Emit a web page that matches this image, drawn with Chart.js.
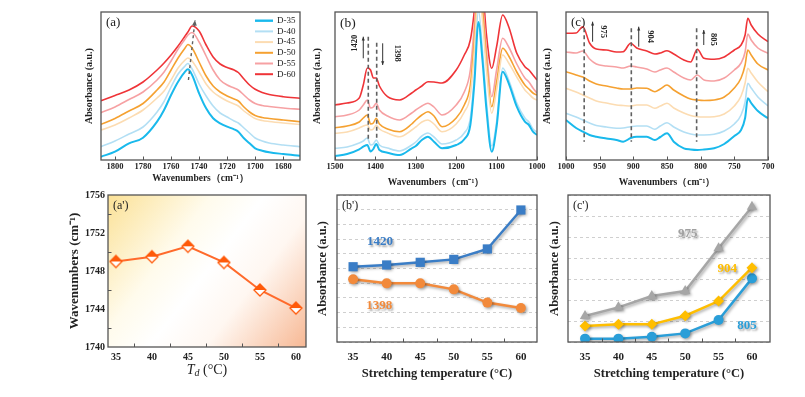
<!DOCTYPE html>
<html>
<head>
<meta charset="utf-8">
<script src="https://cdn.jsdelivr.net/npm/chart.js@4.4.1/dist/chart.umd.min.js"></script>
<style>
  html, body { margin: 0; padding: 0; background: #fff; }
  #fig { position: relative; width: 805px; height: 397px; overflow: hidden; }
  #fig canvas { position: absolute; }
</style>
</head>
<body>
<div id="fig">
  <canvas id="cA" width="255" height="192" style="left:55px;top:0px"></canvas>
  <canvas id="cB" width="250" height="192" style="left:300px;top:0px"></canvas>
  <canvas id="cC" width="255" height="192" style="left:530px;top:0px"></canvas>
  <canvas id="cAp" width="255" height="207" style="left:55px;top:190px"></canvas>
  <canvas id="cBp" width="245" height="207" style="left:300px;top:190px"></canvas>
  <canvas id="cCp" width="245" height="207" style="left:540px;top:190px"></canvas>
</div>
<script>
const SERIF = '"Liberation Serif", "Times New Roman", serif';
const INK = '#222';

// samples
const samples = ['D-35', 'D-40', 'D-45', 'D-50', 'D-55', 'D-60'];
const sampleColors = ['#19b9ec', '#b3dff4', '#fcdcb2', '#f5a131', '#f6a1a3', '#ef3438'];

// (a) C=O band, absorbance in arbitrary units (stacked)
const wnA = [1810, 1800, 1790, 1780, 1770, 1765, 1760, 1755, 1750, 1748, 1745, 1740, 1735, 1730, 1725, 1720, 1715, 1712, 1708, 1704, 1700, 1695, 1690, 1680, 1668];
const ticksA = [1800, 1780, 1760, 1740, 1720, 1700, 1680];
const a35 = [3.3, 8.3, 16.7, 22.3, 38.3, 50, 65, 78.3, 88.3, 90.7, 85, 66.7, 51.7, 41.7, 36.7, 33.3, 30.7, 28.3, 21.7, 16.7, 11.7, 9.3, 7.7, 6, 4.3];
const a40 = [13.3, 19, 26, 33, 48, 58.5, 73, 86, 94, 96.5, 91, 76, 64, 54, 47, 43, 39, 37, 32, 27, 22, 19, 17, 15, 13.3];
const a45 = [30, 35, 42, 50, 62, 69, 80, 92, 100, 102, 99, 88, 76, 68, 63, 59, 56, 54, 49, 45, 41.5, 39.5, 38.5, 37, 35.5];
const a50 = [35.7, 41.5, 49, 56.5, 70, 78, 90, 102, 112, 115.5, 112, 98, 84, 74, 68, 64, 61, 59, 53, 48, 44.5, 42.5, 41.5, 40, 38.3];
const a55 = [47.3, 53, 60.5, 68, 80, 88, 99, 111, 121, 125, 127.5, 118, 104, 90, 80, 75, 72, 70, 65, 60, 56.5, 54.5, 53.5, 52, 50.7];
const a60 = [59.3, 64.5, 70, 78, 90, 97, 105, 114, 124, 128, 134, 129, 115, 103, 96, 92.5, 90, 87.5, 81, 75, 70.7, 67.5, 65.5, 63.3, 61.7];

// (b) 1500-1000 cm-1
const wnB = [1500, 1470, 1440, 1430, 1420, 1412, 1405, 1398, 1390, 1370, 1340, 1310, 1300, 1285, 1270, 1255, 1235, 1200, 1180, 1165, 1155, 1145, 1135, 1125, 1112, 1100, 1085, 1070, 1050, 1030, 1020, 1010, 1000];
const ticksB = [1500, 1400, 1300, 1200, 1100, 1000];
const b35 = [4, 6, 10.7, 13.3, 15, 8.5, 11, 16, 10, 7.3, 5, 11.7, 14, 20, 23.3, 18.3, 11.7, 15, 20.7, 35, 77, 138, 100, 50, 8.3, 33.3, 88.3, 76.7, 53.3, 38.3, 35, 28.3, 25];
const b40 = [11.7, 13, 17, 19, 22, 15, 16, 20, 15, 12, 9, 15, 18, 24, 27, 23, 16, 20, 27, 42, 85, 150, 110, 58, 14, 38, 92, 80, 57, 42, 38, 31, 28];
const b45 = [26.7, 28, 32, 34, 35, 30, 31, 35, 31, 27, 23.3, 30, 33, 38, 40, 36, 28.3, 36, 48, 65, 110, 170, 140, 90, 46.7, 70, 105, 97, 83, 70, 66, 62, 60];
const b50 = [32.3, 34, 38, 42, 45, 36, 37, 41.7, 36, 31, 28.3, 36, 40, 45, 48.3, 44, 33.3, 42, 55, 75, 120, 180, 150, 98, 53.3, 78, 111.7, 104, 88, 75, 71, 67, 65];
const b55 = [43.3, 45, 50, 55, 60, 52, 53, 56.7, 50, 44, 40, 47, 50, 54, 56.7, 53, 45, 55, 68, 90, 135, 190, 160, 110, 63.3, 90, 121.7, 113, 96, 82, 78, 72, 67];
const b60 = [55, 57, 62, 75, 92, 90, 82, 82, 74, 63.3, 60, 67, 70, 74, 78.3, 78, 77, 90, 105, 120, 150, 200, 175, 125, 91.7, 113.3, 145, 133.3, 106.7, 93.3, 90, 85, 80];

// (c) 1000-700 cm-1
const wnC = [1000, 985, 975, 965, 955, 940, 925, 915, 904, 895, 880, 868, 860, 850, 840, 825, 815, 805, 795, 780, 765, 750, 740, 734, 730, 725, 715, 700];
const ticksC = [1000, 950, 900, 850, 800, 750, 700];
const c35 = [40, 32, 28.3, 25, 23.3, 21.5, 20, 18.3, 22, 23.3, 23.3, 20, 23, 26.7, 18.3, 11.7, 10.5, 10, 10.5, 11.7, 16, 24, 30, 42, 61.7, 57, 49, 41.7];
const c40 = [46.7, 43, 40, 37, 34.5, 33, 31.7, 32, 33.3, 34, 34, 30.7, 34, 37.3, 33, 28, 26, 25, 25, 25.7, 29, 36, 45, 58, 76.7, 72, 63, 54];
const c45 = [71.7, 68, 65, 62, 59, 57, 55, 54.5, 54, 55, 55, 51.7, 54, 56.7, 52, 47, 44.5, 43.3, 43, 43.3, 46, 54, 64, 77, 91.7, 87, 78, 68.3];
const c50 = [88.3, 85, 83, 79, 76, 74, 72, 71, 71, 72, 71.7, 68.3, 71, 75, 70, 64, 61, 60, 59.5, 60, 63, 72, 82, 95, 110, 105, 96, 90];
const c55 = [108, 107, 109, 101, 96, 94, 93, 92, 94, 93, 91, 88, 90, 92, 88, 82, 80, 85, 80, 79, 82, 90, 97, 108, 126, 120, 112, 106.7];
const c60 = [126.7, 127, 133.3, 117, 111, 110, 108, 108.3, 116.7, 112, 109, 106, 107, 109.3, 106, 100, 98, 110.7, 101.7, 100.7, 103, 110, 115, 125, 141.7, 135, 126, 118.3];

// bottom row: stretching temperature
const temps = [35, 40, 45, 50, 55, 60];
const minorT = [37.5, 42.5, 47.5, 52.5, 57.5];
const peakPos = [1749.0, 1749.5, 1750.6, 1748.9, 1746.0, 1744.1];
const ticksAp = [1740, 1744, 1748, 1752, 1756];
const minorAp = [1742, 1746, 1750, 1754];
const abs1420 = [5.12, 5.24, 5.42, 5.62, 6.33, 8.98];
const abs1398 = [4.27, 3.99, 3.99, 3.58, 2.68, 2.31];
const abs975 = [1.24, 1.65, 2.19, 2.43, 4.46, 6.44];
const abs904 = [0.76, 0.84, 0.84, 1.25, 1.95, 3.54];
const abs805 = [0.16, 0.16, 0.25, 0.41, 1.05, 3.03];

const pts = (xs, ys) => xs.map((x, i) => ({ x, y: ys[i] }));
const font = (size, weight, style) => `${style || 'normal'} ${weight || 'normal'} ${size}px ${SERIF}`;
const plain = v => String(v); // no thousands separator

// box, background, inward ticks, panel tag, legend
const frame = {
  id: 'frame',
  beforeDraw(chart, args, o) {
    if (!o.bg) return;
    const a = chart.chartArea, ctx = chart.ctx;
    const g = ctx.createLinearGradient(a.left, a.top, a.right, a.bottom);
    o.bg.forEach(([p, c]) => g.addColorStop(p, c));
    ctx.save();
    ctx.fillStyle = g;
    ctx.fillRect(a.left, a.top, a.width, a.height);
    ctx.restore();
  },
  afterDraw(chart, args, o) {
    const a = chart.chartArea, ctx = chart.ctx;
    const sx = chart.scales.x, sy = chart.scales.y;
    ctx.save();
    ctx.strokeStyle = '#555';
    ctx.lineWidth = 1;
    (o.xTicks || []).forEach(v => {
      const px = Math.round(sx.getPixelForValue(v)) + 0.5;
      ctx.beginPath(); ctx.moveTo(px, a.bottom); ctx.lineTo(px, a.bottom - 3.5); ctx.stroke();
    });
    (o.yTicks || []).forEach(v => {
      const py = Math.round(sy.getPixelForValue(v)) + 0.5;
      ctx.beginPath(); ctx.moveTo(a.left, py); ctx.lineTo(a.left + 3.5, py); ctx.stroke();
    });
    ctx.lineWidth = 1.3;
    ctx.strokeRect(a.left, a.top, a.width, a.height);
    if (o.tag) {
      ctx.font = font(o.tagSize || 13);
      ctx.fillStyle = INK;
      ctx.textBaseline = 'middle';
      ctx.fillText(o.tag, a.left + 5, a.top + 11);
    }
    if (o.legend) {
      const L = o.legend;
      ctx.font = font(9);
      ctx.textBaseline = 'middle';
      chart.data.datasets.forEach((d, i) => {
        const y = a.top + L.y0 + i * L.dy;
        ctx.strokeStyle = d.borderColor;
        ctx.lineWidth = d.borderWidth + 0.4;
        ctx.beginPath(); ctx.moveTo(a.right + L.x1, y); ctx.lineTo(a.right + L.x2, y); ctx.stroke();
        ctx.fillStyle = INK;
        ctx.fillText(d.label, a.right + L.tx, y);
      });
    }
    if (o.tdTitle) {
      // T_d (°C)
      const cx = (a.left + a.right) / 2, y = o.tdTitle;
      const parts = [['T', font(14, 'normal', 'italic'), 0], ['d', font(10, 'normal', 'italic'), 3.5], [' (°C)', font(14), 0]];
      let w = 0;
      parts.forEach(p => { ctx.font = p[1]; w += ctx.measureText(p[0]).width; });
      let x = cx - w / 2;
      ctx.fillStyle = INK;
      ctx.textBaseline = 'middle';
      parts.forEach(p => { ctx.font = p[1]; ctx.fillText(p[0], x, y + p[2]); x += ctx.measureText(p[0]).width; });
    }
    ctx.restore();
  }
};

// soft drop shadow for lines and markers
const shadow = {
  id: 'shadow',
  beforeDatasetDraw(chart) {
    const c = chart.ctx;
    c.save();
    c.shadowColor = 'rgba(0,0,0,0.35)';
    c.shadowBlur = 3;
    c.shadowOffsetX = 1.5;
    c.shadowOffsetY = 1.5;
  },
  afterDatasetDraw(chart) { chart.ctx.restore(); }
};

// dashed guides, arrows and labels in data coordinates
const notes = {
  id: 'notes',
  afterDatasetsDraw(chart, args, o) {
    const { ctx, scales: { x, y } } = chart;
    (o.lines || []).forEach(l => {
      const x1 = x.getPixelForValue(l.x1), y1 = y.getPixelForValue(l.y1);
      const x2 = x.getPixelForValue(l.x2), y2 = y.getPixelForValue(l.y2);
      ctx.save();
      ctx.strokeStyle = l.color || '#555';
      ctx.fillStyle = l.color || '#555';
      ctx.lineWidth = l.width || 1.6;
      ctx.setLineDash(l.dash || []);
      ctx.beginPath(); ctx.moveTo(x1, y1); ctx.lineTo(x2, y2); ctx.stroke();
      if (l.arrow) {
        const ang = Math.atan2(y2 - y1, x2 - x1), s = l.arrow;
        ctx.setLineDash([]);
        ctx.beginPath();
        ctx.moveTo(x2, y2);
        ctx.lineTo(x2 - s * Math.cos(ang - 0.4), y2 - s * Math.sin(ang - 0.4));
        ctx.lineTo(x2 - s * Math.cos(ang + 0.4), y2 - s * Math.sin(ang + 0.4));
        ctx.closePath();
        ctx.fill();
      }
      ctx.restore();
    });
    (o.texts || []).forEach(t => {
      ctx.save();
      ctx.translate(x.getPixelForValue(t.x), y.getPixelForValue(t.y));
      ctx.rotate(t.rot || 0);
      ctx.font = t.font;
      ctx.fillStyle = t.color || INK;
      ctx.textAlign = 'center';
      ctx.textBaseline = 'middle';
      if (t.shadow) {
        ctx.shadowColor = 'rgba(0,0,0,0.35)';
        ctx.shadowBlur = 2;
        ctx.shadowOffsetX = 1.5;
        ctx.shadowOffsetY = 1.5;
      }
      ctx.fillText(t.text, 0, 0);
      ctx.restore();
    });
  }
};

function spectrumChart(id, wn, series, o) {
  return new Chart(document.getElementById(id), {
    type: 'line',
    data: {
      datasets: series.map((ys, i) => ({
        label: samples[i],
        data: pts(wn, ys),
        borderColor: sampleColors[i],
        borderWidth: i === 0 ? 2 : 1.6,
        pointRadius: 0,
        cubicInterpolationMode: 'monotone'
      }))
    },
    options: {
      responsive: false,
      animation: false,
      events: [],
      layout: { autoPadding: false, padding: { left: 0, top: 12, right: o.right, bottom: 0 } },
      plugins: { legend: { display: false }, tooltip: { enabled: false }, frame: o.frame, notes: o.notes || {} },
      scales: {
        x: {
          type: 'linear', reverse: true, min: o.min, max: o.max,
          afterBuildTicks: s => { s.ticks = o.ticks.map(v => ({ value: v })); },
          afterFit: s => { s.height = o.h - 160; s.paddingLeft = 0; s.paddingRight = 0; },
          grid: { display: false, drawTicks: false }, border: { display: false },
          ticks: { callback: plain, padding: 2, autoSkip: false, maxRotation: 0, color: INK, font: { family: SERIF, size: 8.5, weight: 'bold' } },
          title: { display: true, text: 'Wavenumbers（cm⁻¹）', color: INK, padding: { top: 0, bottom: o.xtPad }, font: { family: SERIF, size: 9.5, weight: 'bold' } }
        },
        y: {
          type: 'linear', min: 0, max: 148,
          afterFit: s => { s.width = o.left; s.paddingTop = 0; s.paddingBottom = 0; },
          grid: { display: false, drawTicks: false }, border: { display: false },
          ticks: { display: false },
          title: { display: true, text: 'Absorbance (a.u.)', color: INK, padding: { top: o.ytPad, bottom: 0 }, font: { family: SERIF, size: 10, weight: 'bold' } }
        }
      }
    },
    plugins: [frame, notes]
  });
}

const dash = [4, 3];
const grayDash = '#606060';

spectrumChart('cA', wnA, [a35, a40, a45, a50, a55, a60], {
  min: 1668, max: 1810, ticks: ticksA, left: 46, right: 10, h: 192, xtPad: 8, ytPad: 28,
  frame: { tag: '(a)', tagSize: 13, xTicks: ticksA, legend: { x1: -45, x2: -27, tx: -23, y0: 8.7, dy: 10.7 } },
  notes: { lines: [{ x1: 1747.6, y1: 80, x2: 1742.9, y2: 140, dash: [3, 3], color: grayDash, width: 1.4, arrow: 6 }] }
});

spectrumChart('cB', wnB, [b35, b40, b45, b50, b55, b60], {
  min: 1000, max: 1500, ticks: ticksB, left: 35, right: 13, h: 192, xtPad: 3.6, ytPad: 11,
  frame: { tag: '(b)', tagSize: 13.5, xTicks: ticksB },
  notes: {
    lines: [
      { x1: 1417.6, y1: 123.3, x2: 1417.6, y2: 20, dash, color: grayDash },
      { x1: 1396.8, y1: 117.3, x2: 1396.8, y2: 20, dash, color: grayDash },
      { x1: 1430, y1: 101.7, x2: 1430, y2: 123.3, width: 1, color: '#333', arrow: 4 },
      { x1: 1382, y1: 116.7, x2: 1382, y2: 95, width: 1, color: '#333', arrow: 4 }
    ],
    texts: [
      { x: 1450.5, y: 116.7, text: '1420', rot: -Math.PI / 2, font: font(8.5, 'bold') },
      { x: 1347, y: 106.7, text: '1398', rot: Math.PI / 2, font: font(8.5, 'bold') }
    ]
  }
});

spectrumChart('cC', wnC, [c35, c40, c45, c50, c55, c60], {
  min: 700, max: 1000, ticks: ticksC, left: 36, right: 17, h: 192, xtPad: 3.6, ytPad: 11,
  frame: { tag: '(c)', tagSize: 13, xTicks: ticksC },
  notes: {
    lines: [
      { x1: 973, y1: 131.7, x2: 973, y2: 18.3, dash, color: grayDash },
      { x1: 903, y1: 131.7, x2: 903, y2: 18.3, dash, color: grayDash },
      { x1: 806, y1: 131.7, x2: 806, y2: 18.3, dash, color: grayDash },
      { x1: 960.5, y1: 118.3, x2: 960.5, y2: 138.3, width: 1, color: '#333', arrow: 4 },
      { x1: 892, y1: 113.3, x2: 892, y2: 133.3, width: 1, color: '#333', arrow: 4 },
      { x1: 795.4, y1: 115, x2: 795.4, y2: 130, width: 1, color: '#333', arrow: 4 }
    ],
    texts: [
      { x: 944.6, y: 128.3, text: '975', rot: Math.PI / 2, font: font(8.5, 'bold') },
      { x: 875.5, y: 123.3, text: '904', rot: Math.PI / 2, font: font(8.5, 'bold') },
      { x: 781.6, y: 120.7, text: '805', rot: Math.PI / 2, font: font(8.5, 'bold') }
    ]
  }
});

// half-filled diamond marker for (a')
function halfDiamond(size, color) {
  const c = document.createElement('canvas');
  const n = size + 4, m = n / 2, r = size / 2;
  c.width = c.height = n;
  const g = c.getContext('2d');
  const path = () => { g.beginPath(); g.moveTo(m, m - r); g.lineTo(m + r, m); g.lineTo(m, m + r); g.lineTo(m - r, m); g.closePath(); };
  path(); g.fillStyle = '#fff'; g.fill();
  g.beginPath(); g.moveTo(m, m - r); g.lineTo(m + r, m); g.lineTo(m - r, m); g.closePath(); g.fillStyle = color; g.fill();
  path(); g.strokeStyle = color; g.lineWidth = 1.3; g.stroke();
  return c;
}

function tempOptions(o) {
  return {
    responsive: false,
    animation: false,
    events: [],
    layout: { autoPadding: false, padding: { left: 0, top: 5, right: o.right, bottom: 0 } },
    plugins: { legend: { display: false }, tooltip: { enabled: false }, frame: o.frame, notes: o.notes || {} },
    scales: {
      x: {
        type: 'linear', min: o.xmin, max: o.xmax,
        afterBuildTicks: s => { s.ticks = temps.map(v => ({ value: v })); },
        afterFit: s => { s.height = 207 - o.bottom; s.paddingLeft = 0; s.paddingRight = 0; },
        grid: { display: false, drawTicks: false }, border: { display: false },
        ticks: { callback: plain, padding: o.xtickPad, autoSkip: false, maxRotation: 0, color: INK, font: { family: SERIF, size: o.xtickSize, weight: 'bold' } },
        title: o.xTitle ? { display: true, text: o.xTitle, color: INK, padding: { top: 0, bottom: 16.2 }, font: { family: SERIF, size: 12.5, weight: 'bold' } } : { display: false }
      },
      y: Object.assign({
        type: 'linear',
        afterFit: s => { s.width = o.left; s.paddingTop = 0; s.paddingBottom = 0; },
        title: { display: true, text: o.yTitle, color: INK, padding: { top: o.ytPad, bottom: 0 }, font: { family: SERIF, size: o.ytSize, weight: 'bold' } }
      }, o.y)
    }
  };
}

new Chart(document.getElementById('cAp'), {
  type: 'line',
  data: {
    datasets: [{
      label: 'C=O peak', data: pts(temps, peakPos),
      borderColor: '#ff6a2b', borderWidth: 2,
      pointStyle: halfDiamond(12, '#ff5a0a'), pointRadius: 7
    }]
  },
  options: tempOptions({
    xmin: 33.9, xmax: 61.4, left: 53, right: 4, bottom: 157, xtickPad: 4, xtickSize: 10,
    yTitle: 'Wavenumbers (cm⁻¹)', ytPad: 12, ytSize: 13,
    y: {
      min: 1740, max: 1756,
      afterBuildTicks: s => { s.ticks = ticksAp.map(v => ({ value: v })); },
      grid: { display: false, drawTicks: false }, border: { display: false },
      ticks: { callback: plain, padding: 3, color: INK, font: { family: SERIF, size: 10, weight: 'bold' } }
    },
    frame: {
      tag: "(a')", tagSize: 12, xTicks: minorT, yTicks: minorAp, tdTitle: 180,
      bg: [[0, '#fbe196'], [0.33, '#fffbec'], [0.5, '#ffffff'], [0.68, '#fff7f1'], [1, '#f7b894']]
    }
  }),
  plugins: [frame]
});

const gridY = {
  grid: { display: true, color: '#cfcfcf', lineWidth: 1, drawTicks: false },
  border: { display: false, dash: [3, 3] },
  ticks: { display: false, stepSize: 1 }
};

new Chart(document.getElementById('cBp'), {
  type: 'line',
  data: {
    datasets: [
      { label: '1420', data: pts(temps, abs1420), borderColor: '#3a7dc6', backgroundColor: '#3a7dc6', borderWidth: 2.5, pointStyle: 'rect', pointRadius: 6.5, pointBorderWidth: 0 },
      { label: '1398', data: pts(temps, abs1398), borderColor: '#f28a3b', backgroundColor: '#f28a3b', borderWidth: 2.5, pointStyle: 'circle', pointRadius: 5, pointBorderWidth: 0 }
    ]
  },
  options: tempOptions({
    xmin: 32.6, xmax: 62.4, left: 37, right: 8, bottom: 152, xtickPad: 8.5, xtickSize: 11,
    xTitle: 'Stretching temperature (°C)',
    yTitle: 'Absorbance (a.u.)', ytPad: 15.5, ytSize: 12.5,
    y: Object.assign({ min: 0, max: 10 }, gridY),
    frame: { tag: "(b')", tagSize: 12, xTicks: minorT },
    notes: {
      texts: [
        { x: 39.0, y: 6.8, text: '1420', color: '#3a7dc6', font: font(13, 'bold'), shadow: true },
        { x: 38.9, y: 2.45, text: '1398', color: '#f28a3b', font: font(13, 'bold'), shadow: true }
      ]
    }
  }),
  plugins: [frame, shadow, notes]
});

new Chart(document.getElementById('cCp'), {
  type: 'line',
  data: {
    datasets: [
      { label: '975', data: pts(temps, abs975), borderColor: '#a6a6a6', backgroundColor: '#a6a6a6', borderWidth: 2.5, pointStyle: 'triangle', pointRadius: 6, pointBorderWidth: 0 },
      { label: '904', data: pts(temps, abs904), borderColor: '#ffbe00', backgroundColor: '#ffbe00', borderWidth: 2.5, pointStyle: 'rectRot', pointRadius: 5.5, pointBorderWidth: 0 },
      { label: '805', data: pts(temps, abs805), borderColor: '#2a9ed8', backgroundColor: '#2a9ed8', borderWidth: 2.5, pointStyle: 'circle', pointRadius: 5, pointBorderWidth: 0 }
    ]
  },
  options: tempOptions({
    xmin: 32.45, xmax: 62.7, left: 28, right: 15, bottom: 152, xtickPad: 8.5, xtickSize: 11,
    xTitle: 'Stretching temperature (°C)',
    yTitle: 'Absorbance (a.u.)', ytPad: 7.5, ytSize: 12.5,
    y: Object.assign({ min: 0, max: 7 }, gridY),
    frame: { tag: "(c')", tagSize: 12, xTicks: minorT },
    notes: {
      texts: [
        { x: 50.4, y: 5.14, text: '975', color: '#a0a0a0', font: font(13, 'bold'), shadow: true },
        { x: 56.3, y: 3.48, text: '904', color: '#ffbe00', font: font(13, 'bold'), shadow: true },
        { x: 59.25, y: 0.76, text: '805', color: '#2a9ed8', font: font(13, 'bold'), shadow: true }
      ]
    }
  }),
  plugins: [frame, shadow, notes]
});
</script>
</body>
</html>
